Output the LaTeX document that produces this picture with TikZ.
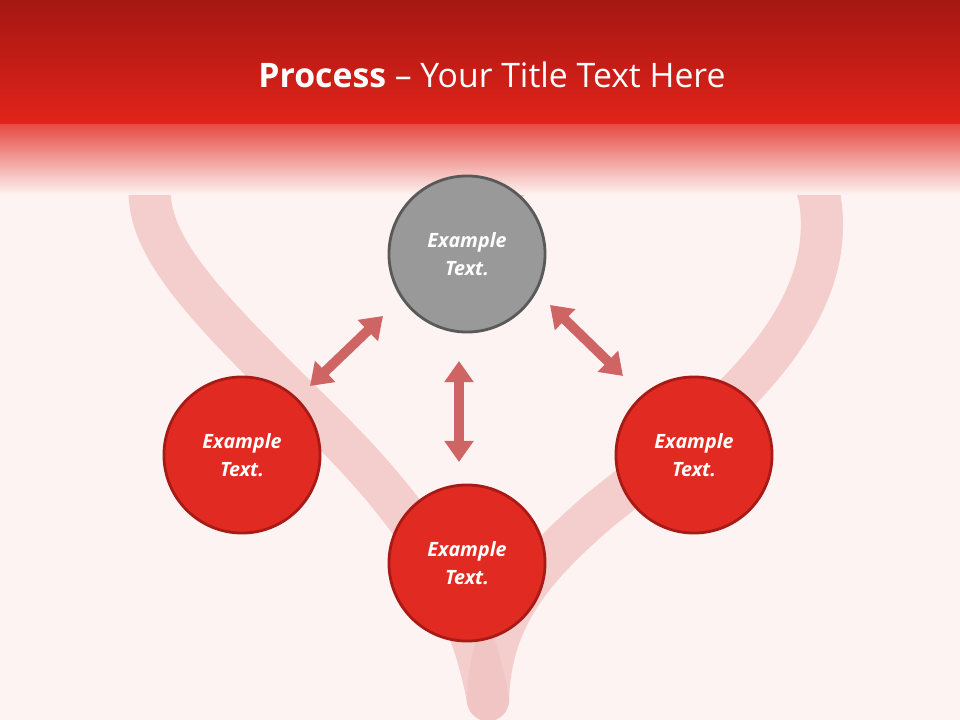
\documentclass[tikz,border=0pt]{standalone}
\usepackage{fontspec}
\setmainfont{Open Sans}
\usetikzlibrary{arrows.meta}
\definecolor{bg}{HTML}{FDF3F2}
\definecolor{barA}{HTML}{A51712}
\definecolor{barB}{HTML}{E2231A}
\definecolor{redc}{HTML}{E12B22}
\definecolor{redb}{HTML}{A81A16}
\definecolor{arr}{HTML}{CF6464}
\definecolor{heart}{HTML}{F2C4C4}
\tikzset{
 rc/.style={circle,draw=redb,line width=2pt,fill=redc,minimum size=111pt,text=white,font=\bfseries\itshape\fontsize{14}{20}\selectfont,align=center},
 gc/.style={rc,draw=black!65,fill=black!40},
 dbl/.style={draw=arr,line width=7pt,{Triangle[width=20pt,length=15pt]}-{Triangle[width=20pt,length=15pt]},shorten <=0pt,shorten >=0pt}
}
\begin{document}
\begin{tikzpicture}[x=0.025cm,y=-0.025cm]
\useasboundingbox (0,0) rectangle (960,720);
\fill[bg] (0,0) rectangle (960,720);
% heart
\draw[heart,line width=30pt,line cap=round,opacity=0.8]
 (488,700) .. controls (470,600) and (420,520) .. (330,430)
 .. controls (200,300) and (120,230) .. (160,150)
 .. controls (220,80) and (420,90) .. (510,180);
\draw[heart,line width=30pt,line cap=round,opacity=0.8]
 (510,180) .. controls (580,90) and (800,90) .. (820,200)
 .. controls (840,330) and (700,430) .. (600,510)
 .. controls (530,570) and (490,620) .. (488,700);
% title bar
\shade[top color=barA,bottom color=barB] (0,0) rectangle (960,125);
\shade[top color=barB!80!bg,bottom color=bg] (0,125) rectangle (960,195);
\node[text=white,font=\fontsize{24}{28}\selectfont] (title) at (492,75) {\textbf{Process} – Your Title Text Here};
% circles
\node[gc] (t) at (467,254) {Example\\Text.};
\node[rc] (l) at (242,455) {Example\\Text.};
\node[rc] (b) at (467,563) {Example\\Text.};
\node[rc] (r) at (694,455) {Example\\Text.};
\coordinate (a1) at (310,386); \coordinate (a2) at (383,316);
\coordinate (b1) at (550,305); \coordinate (b2) at (623,376);
\coordinate (c1) at (459,361); \coordinate (c2) at (459,462);
\draw[dbl] (a1) -- (a2);
\draw[dbl] (b1) -- (b2);
\draw[dbl] (c1) -- (c2);
\end{tikzpicture}
\end{document}
